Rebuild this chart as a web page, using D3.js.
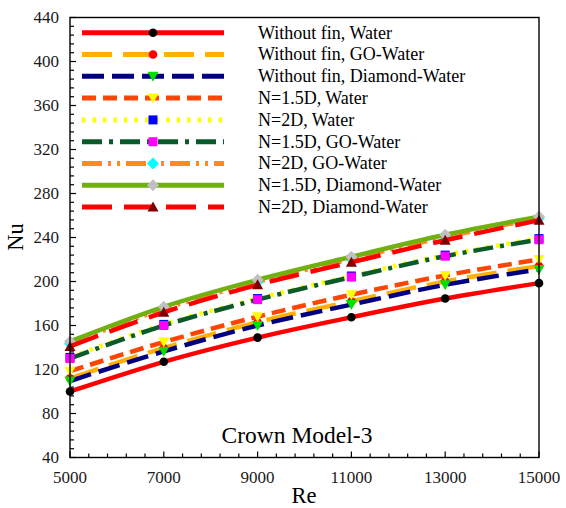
<!DOCTYPE html>
<html><head><meta charset="utf-8">
<script src="https://cdn.jsdelivr.net/npm/d3@7"></script>
<style>body{margin:0;background:#fff}svg{display:block}</style>
</head><body>
<svg id="c" width="566" height="508"></svg>
<script>
const reValues = [5000, 7000, 9000, 11000, 13000, 15000];
const xTicks = [5000, 7000, 9000, 11000, 13000, 15000];
const yTicks = [40, 80, 120, 160, 200, 240, 280, 320, 360, 400, 440];

const seriesNames = [
  "Without fin, Water",
  "Without fin, GO-Water",
  "Without fin, Diamond-Water",
  "N=1.5D, Water",
  "N=2D, Water",
  "N=1.5D, GO-Water",
  "N=2D, GO-Water",
  "N=1.5D, Diamond-Water",
  "N=2D, Diamond-Water"
];
const noFinWater      = [100, 127, 149, 167.5, 184.5, 198.5];
const noFinGO         = [112, 139.5, 163, 182, 200, 214];
const noFinDiamond    = [109.5, 136.5, 160, 179, 197, 211];
const n15Water        = [118.5, 145, 168, 188, 205.5, 220];
const n2Water         = [131, 161, 184.5, 205, 224, 239];
const n15GO           = [130, 160, 183.5, 204, 223, 238];
const n2GO            = [143.5, 175, 199.5, 220.5, 240.5, 257.5];
const n15Diamond      = [145.5, 177, 201.5, 222.5, 242.5, 259];
const n2Diamond       = [141, 172, 197, 217.5, 237.5, 255.7];
const seriesValues = [noFinWater, noFinGO, noFinDiamond, n15Water, n2Water, n15GO, n2GO, n15Diamond, n2Diamond];

const lineColors   = ["#ff0000", "#ffb000", "#000080", "#ff4500", "#ffff00", "#0a5a2a", "#ff8c1a", "#70b010", "#ff0000"];
const dashPatterns = ["", "30,11", "22,8", "14,7", "3.5,7", "20,7,4,7", "20,6,3,6,3,6", "", "30,12"];
const markerShapes = ["circle", "circle", "triDown", "triDown", "square", "square", "diamond", "diamond", "triUp"];
const markerColors = ["#000000", "#ff0000", "#00e000", "#ffff00", "#0000ff", "#ff00ff", "#00ffff", "#c0c0c0", "#800000"];

const svg = d3.select("#c");
const L = 70, R = 539, T = 17.5, B = 457.5;
const x = d3.scaleLinear().domain([5000, 15000]).range([L, R]);
const y = d3.scaleLinear().domain([40, 440]).range([B, T]);
const font = "'Liberation Serif', 'Times New Roman', serif";

// minor ticks
const xMinor = d3.range(5000, 15001, 400).filter(v => !xTicks.includes(v));
const yMinor = d3.range(40, 441, 8).filter(v => !yTicks.includes(v));
const g = svg.append("g");
g.selectAll(".xm").data(xMinor).join("line")
  .attr("x1", d => x(d)).attr("x2", d => x(d)).attr("y1", B).attr("y2", B - 4)
  .attr("stroke", "#000").attr("stroke-width", 1.2);
g.selectAll(".xM").data(xTicks).join("line")
  .attr("x1", d => x(d)).attr("x2", d => x(d)).attr("y1", B).attr("y2", B - 6)
  .attr("stroke", "#000").attr("stroke-width", 1.2);
g.selectAll(".ym").data(yMinor).join("line")
  .attr("x1", L).attr("x2", L + 4).attr("y1", d => y(d)).attr("y2", d => y(d))
  .attr("stroke", "#000").attr("stroke-width", 1.2);
g.selectAll(".yM").data(yTicks).join("line")
  .attr("x1", L).attr("x2", L + 6).attr("y1", d => y(d)).attr("y2", d => y(d))
  .attr("stroke", "#000").attr("stroke-width", 1.2);

// tick labels
g.selectAll(".xl").data(xTicks).join("text")
  .attr("x", d => x(d)).attr("y", B + 25.5).attr("text-anchor", "middle")
  .attr("font-family", font).attr("font-size", 17).attr("fill", "#1a1a1a").text(d => d);
g.selectAll(".yl").data(yTicks).join("text")
  .attr("x", L - 11).attr("y", d => y(d)).attr("dy", "0.35em").attr("text-anchor", "end")
  .attr("font-family", font).attr("font-size", 17).attr("fill", "#1a1a1a").text(d => d);

// axis titles
svg.append("text").attr("x", 304).attr("y", 503).attr("text-anchor", "middle")
  .attr("font-family", font).attr("font-size", 22.5).attr("fill", "#000").text("Re");
svg.append("text").attr("transform", "translate(23,237) rotate(-90)").attr("text-anchor", "middle")
  .attr("font-family", font).attr("font-size", 22.5).attr("fill", "#000").text("Nu");
svg.append("text").attr("x", 297).attr("y", 443).attr("text-anchor", "middle")
  .attr("font-family", font).attr("font-size", 23.5).attr("fill", "#000").text("Crown Model-3");

function markerPath(shape, cx, cy) {
  const p = d3.path();
  if (shape === "circle") { p.arc(cx, cy, 4.3, 0, 2 * Math.PI); }
  else if (shape === "square") { p.rect(cx - 4.5, cy - 4.5, 9, 9); }
  else if (shape === "triDown") { p.moveTo(cx - 5.5, cy - 4.5); p.lineTo(cx + 5.5, cy - 4.5); p.lineTo(cx, cy + 5.5); p.closePath(); }
  else if (shape === "triUp") { p.moveTo(cx - 5.5, cy + 4.5); p.lineTo(cx + 5.5, cy + 4.5); p.lineTo(cx, cy - 5.5); p.closePath(); }
  else if (shape === "diamond") { p.moveTo(cx, cy - 6); p.lineTo(cx + 6, cy); p.lineTo(cx, cy + 6); p.lineTo(cx - 6, cy); p.closePath(); }
  return p.toString();
}

const line = d3.line().x(d => x(d[0])).y(d => y(d[1])).curve(d3.curveMonotoneX);
const plot = svg.append("g");
seriesValues.forEach((vals, i) => {
  const pts = reValues.map((r, k) => [r, vals[k]]);
  plot.append("path").attr("d", line(pts)).attr("fill", "none")
    .attr("stroke", lineColors[i]).attr("stroke-width", 4.5)
    .attr("stroke-dasharray", dashPatterns[i] || null).attr("stroke-linecap", "butt");
  plot.selectAll(null).data(pts).join("path")
    .attr("d", d => markerPath(markerShapes[i], x(d[0]), y(d[1])))
    .attr("fill", markerColors[i]);
});

// legend
const legY0 = 32.7, legDy = 21.8;
const lg = svg.append("g");
seriesNames.forEach((name, i) => {
  const yy = legY0 + i * legDy;
  lg.append("line").attr("x1", 82).attr("x2", 224).attr("y1", yy).attr("y2", yy)
    .attr("stroke", lineColors[i]).attr("stroke-width", 5)
    .attr("stroke-dasharray", dashPatterns[i] || null);
  lg.append("path").attr("d", markerPath(markerShapes[i], 153, yy)).attr("fill", markerColors[i]);
  lg.append("text").attr("x", 258).attr("y", yy).attr("dy", "0.33em")
    .attr("font-family", font).attr("font-size", 18).attr("fill", "#000").text(name);
});

// frame
svg.append("rect").attr("x", L).attr("y", T).attr("width", R - L).attr("height", B - T)
  .attr("fill", "none").attr("stroke", "#000").attr("stroke-width", 1.4);
</script>
</body></html>
